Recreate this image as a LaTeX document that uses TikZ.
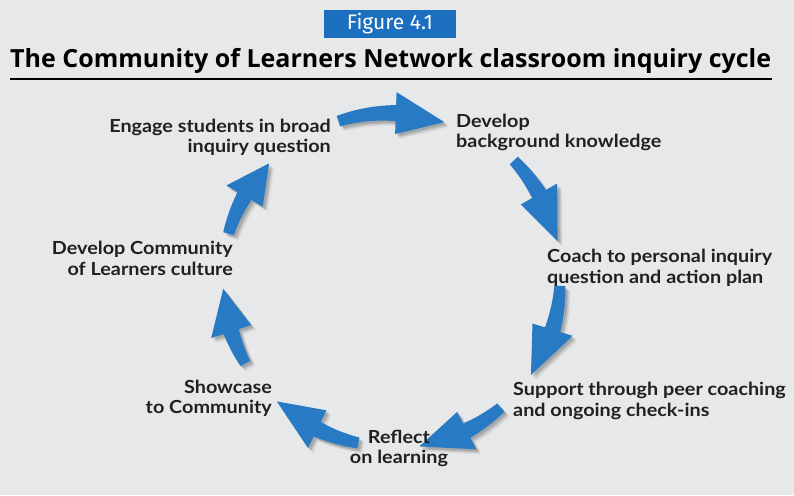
\documentclass[tikz,border=0pt]{standalone}
\usepackage{fontspec}
\setmainfont{Lato}
\newfontfamily\labfont{Lato}[FakeStretch=1.1]
\newfontfamily\titlefont{Open Sans}
\newfontfamily\figfont{Fira Sans}
\definecolor{bgc}{HTML}{E7E8E9}
\definecolor{arrowblue}{HTML}{287AC4}
\definecolor{figblue}{HTML}{1B6FBE}
\definecolor{txt}{HTML}{231F20}
\tikzset{
  lab/.style={font=\labfont\bfseries\fontsize{18}{20.5}\selectfont, text=txt, inner sep=0pt},
}
% tail angle, head-base angle, tip angle, radius
\newcommand\cycarrow[4]{%
  \pgfmathsetmacro\ho{#4+21}%
  \pgfmathsetmacro\hi{#4-21}%
  \begin{scope}[shift={(390,215)}]
  \foreach \s/\o/\c in {5/0.05/black,4/0.07/black,3/0.09/black,2/0.1/black,0/1/arrowblue}{%
    \fill[\c,opacity=\o,shift={(\s,-\s)}]
      plot[domain=#1:#2, samples=12] (\x:{#4+5.5+2.5*(#1-\x)/(#1-#2)})
      -- (#2:\ho) -- (#3:#4) -- (#2:\hi)
      -- plot[domain=#2:#1, samples=12] (\x:{#4-5.5-2.5*(#1-\x)/(#1-#2)}) -- cycle;
  }
  \end{scope}}
\begin{document}
\begin{tikzpicture}[x=1pt,y=1pt]
\fill[bgc] (0,0) rectangle (794,495);
\useasboundingbox (0,0) rectangle (794,495);

% figure label
\node[fill=figblue, minimum width=132pt, minimum height=28pt, text=white,
      font=\figfont\fontsize{21}{24}\selectfont, inner sep=0pt] (fig) at (390,471) {Figure 4.1};

% title
\node[font=\titlefont\bfseries\fontsize{25}{30}\selectfont, text=black, anchor=base west, inner sep=0pt]
  (title) at (10,427) {The Community of Learners Network classroom inquiry cycle};
\coordinate (ruleL) at (10,416);
\coordinate (ruleR) at (772,416);
\draw[line width=1.5pt] (ruleL) -- (ruleR);

% cycle arrows
\cycarrow{108}{88}{71}{167}
\cycarrow{44}{30}{13}{172}
\cycarrow{-2}{-17}{-34}{170}
\cycarrow{-49}{-63}{-80}{169}
\cycarrow{-101}{-116}{-133}{166}
\cycarrow{210}{198}{183}{167}
\cycarrow{164}{150}{136}{168}

% labels
\node[lab,align=right,anchor=east] (engage) at (331,357.5) {Engage students in broad\\inquiry question};
\node[lab,align=left,anchor=west] (backgr) at (456,362.5) {Develop\\background knowledge};
\node[lab,align=left,anchor=west] (coach) at (547,227) {Coach to personal inquiry\\question and action plan};
\node[lab,align=left,anchor=west] (support) at (513,94) {Support through peer coaching\\and ongoing check-ins};
\node[lab,align=center] (reflect) at (399,46.5) {Reflect\\on learning};
\node[lab,align=right,anchor=east] (showcase) at (272,96.5) {Showcase\\to Community};
\node[lab,align=right,anchor=east] (culture) at (233,236.5) {Develop Community\\of Learners culture};
\end{tikzpicture}
\end{document}
